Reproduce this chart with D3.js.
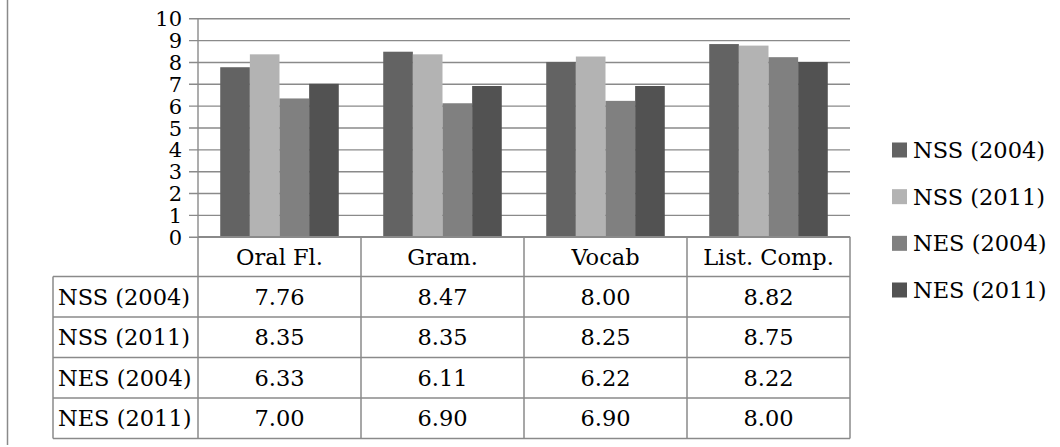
<!DOCTYPE html>
<html>
<head>
<meta charset="utf-8">
<script src="https://cdn.jsdelivr.net/npm/d3@7"></script>
<style>
  html, body { margin: 0; padding: 0; background: #fff; }
  svg { display: block; }
  text { font-family: "DejaVu Serif", "Liberation Serif", serif; fill: #000; }
</style>
</head>
<body>
<svg id="chart" width="1060" height="447"></svg>
<script>
// Skill scores by category, one array per group/year
const categories = ["Oral Fl.", "Gram.", "Vocab", "List. Comp."];
const seriesNames = ["NSS (2004)", "NSS (2011)", "NES (2004)", "NES (2011)"];
const nss2004 = [7.76, 8.47, 8.00, 8.82];
const nss2011 = [8.35, 8.35, 8.25, 8.75];
const nes2004 = [6.33, 6.11, 6.22, 8.22];
const nes2011 = [7.00, 6.90, 6.90, 8.00];
const yTicks = [0, 1, 2, 3, 4, 5, 6, 7, 8, 9, 10];

const seriesValues = [nss2004, nss2011, nes2004, nes2011];
const seriesColors = ["#636363", "#b3b3b3", "#808080", "#525252"];
const valueFormat = d3.format(".2f");

const svg = d3.select("#chart");
const lineColor = "#8a8a8a";
const fontSize = 22.5;
const tickFontSize = 21;

// Plot frame
const plot = { left: 198, right: 850, top: 18.3, bottom: 236.7 };

const x0 = d3.scaleBand().domain(categories).range([plot.left, plot.right]).padding(0);
const x1 = d3.scaleBand().domain(seriesNames).range([0, x0.bandwidth()])
  .paddingInner(0).paddingOuter(0.75);
const y = d3.scaleLinear().domain([0, 10]).range([plot.bottom, plot.top]);

// Outer frame edge on the left
svg.append("line")
  .attr("x1", 7.5).attr("x2", 7.5).attr("y1", 0).attr("y2", 445)
  .attr("stroke", lineColor).attr("stroke-width", 1.5);

// Gridlines with left ticks and labels
const yAxis = d3.axisLeft(y)
  .tickValues(yTicks)
  .tickSize(-(plot.right - plot.left))
  .tickPadding(16)
  .tickFormat(d3.format("d"));

const gy = svg.append("g")
  .attr("transform", `translate(${plot.left},0)`)
  .call(yAxis);
gy.select(".domain").remove();
gy.selectAll(".tick line")
  .attr("x1", -9)
  .attr("stroke", lineColor)
  .attr("stroke-width", 1.4);
gy.selectAll(".tick text")
  .attr("font-size", tickFontSize)
  .attr("font-family", "DejaVu Serif")
  .attr("dy", "0.36em");

// Bars
const groups = svg.append("g").selectAll("g")
  .data(categories)
  .join("g")
  .attr("transform", d => `translate(${x0(d)},0)`);

groups.selectAll("rect")
  .data((c, ci) => seriesNames.map((s, si) => ({ s, si, v: seriesValues[si][ci] })))
  .join("rect")
  .attr("x", d => x1(d.s))
  .attr("width", x1.bandwidth())
  .attr("y", d => y(d.v))
  .attr("height", d => y(0) - y(d.v))
  .attr("fill", d => seriesColors[d.si]);

// Value axis line
svg.append("line")
  .attr("x1", plot.left).attr("x2", plot.left)
  .attr("y1", plot.top).attr("y2", plot.bottom)
  .attr("stroke", lineColor).attr("stroke-width", 1.4);

// Data table under the plot
const headerTop = plot.bottom;
const headerH = 39.7;
const rowH = 40.5;
const tableLeft = 53;
const rowTop = headerTop + headerH;
const tableBottom = rowTop + rowH * seriesNames.length;

const table = svg.append("g");

// horizontal rules
table.append("line")
  .attr("x1", plot.left).attr("x2", plot.right)
  .attr("y1", headerTop).attr("y2", headerTop)
  .attr("stroke", lineColor).attr("stroke-width", 1.5);
d3.range(seriesNames.length + 1).forEach(i => {
  const yy = rowTop + i * rowH;
  table.append("line")
    .attr("x1", tableLeft).attr("x2", plot.right)
    .attr("y1", yy).attr("y2", yy)
    .attr("stroke", lineColor).attr("stroke-width", 1.5);
});

// vertical rules
const colEdges = categories.map(c => x0(c)).concat([plot.right]);
colEdges.forEach(xx => {
  table.append("line")
    .attr("x1", xx).attr("x2", xx)
    .attr("y1", headerTop).attr("y2", tableBottom)
    .attr("stroke", lineColor).attr("stroke-width", 1.5);
});
table.append("line")
  .attr("x1", tableLeft).attr("x2", tableLeft)
  .attr("y1", rowTop).attr("y2", tableBottom)
  .attr("stroke", lineColor).attr("stroke-width", 1.5);

// category headers
table.selectAll("text.cat")
  .data(categories)
  .join("text")
  .attr("class", "cat")
  .attr("x", d => x0(d) + x0.bandwidth() / 2)
  .attr("y", headerTop + headerH / 2)
  .attr("dy", "0.36em")
  .attr("text-anchor", "middle")
  .attr("font-size", fontSize)
  .text(d => d);

// row labels and values
seriesNames.forEach((name, si) => {
  const cy = rowTop + si * rowH + rowH / 2;
  table.append("text")
    .attr("x", tableLeft + 5)
    .attr("y", cy)
    .attr("dy", "0.36em")
    .attr("font-size", fontSize)
    .text(name);
  table.selectAll(null)
    .data(categories.map((c, ci) => ({ c, v: seriesValues[si][ci] })))
    .join("text")
    .attr("x", d => x0(d.c) + x0.bandwidth() / 2)
    .attr("y", cy)
    .attr("dy", "0.36em")
    .attr("text-anchor", "middle")
    .attr("font-size", fontSize)
    .text(d => valueFormat(d.v));
});

// Legend
const legendY = d3.scalePoint().domain(seriesNames).range([150, 290]);
const legend = svg.append("g").selectAll("g")
  .data(seriesNames)
  .join("g")
  .attr("transform", d => `translate(892,${legendY(d)})`);
legend.append("rect")
  .attr("x", 0).attr("y", -7.5)
  .attr("width", 15).attr("height", 15)
  .attr("fill", (d, i) => seriesColors[i]);
legend.append("text")
  .attr("x", 21)
  .attr("y", 0)
  .attr("dy", "0.36em")
  .attr("font-size", fontSize)
  .text(d => d);
</script>
</body>
</html>
